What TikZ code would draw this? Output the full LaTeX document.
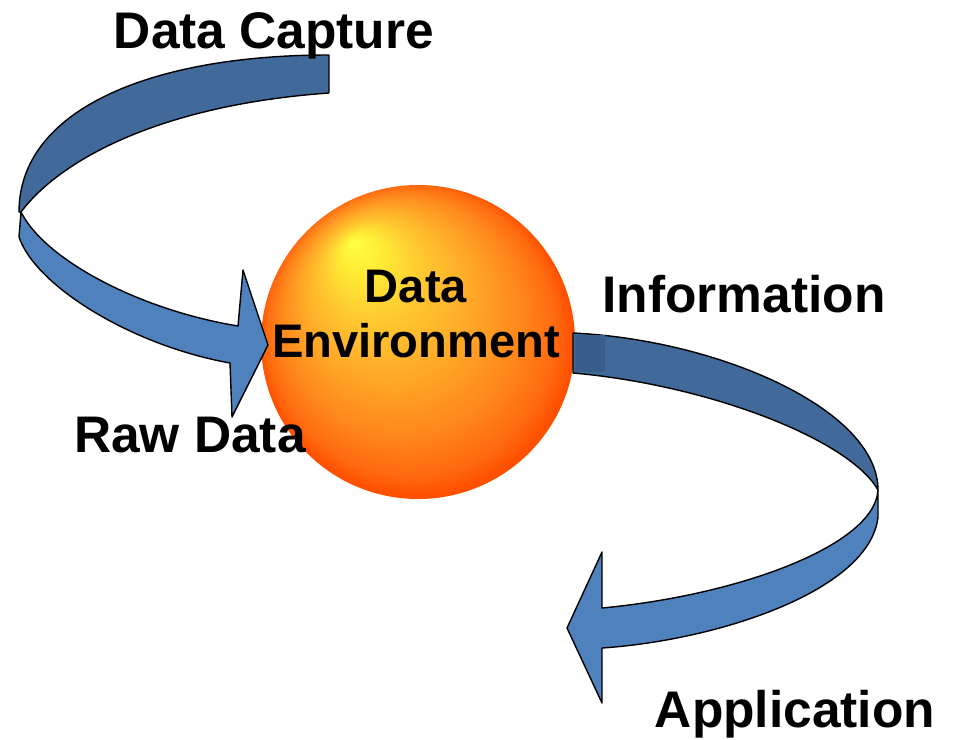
\documentclass[tikz,border=0pt]{standalone}
\usepackage{fontspec}
\setmainfont{Liberation Sans}
\usetikzlibrary{positioning,shapes,arrows}

\definecolor{ribbonfront}{HTML}{4F81BD}
\definecolor{ribbonback}{HTML}{41699A}
\definecolor{ribbonstub}{HTML}{3A5E8C}
\definecolor{glowA}{HTML}{FFFF40}
\definecolor{glowB}{HTML}{FFEE36}
\definecolor{glowC}{HTML}{FFC830}
\definecolor{glowD}{HTML}{FFA626}
\definecolor{glowE}{HTML}{FF881C}
\definecolor{glowF}{HTML}{FF6A10}
\definecolor{glowG}{HTML}{FF5000}
\pgfdeclareradialshading{sphere glow}{\pgfpoint{-10.4bp}{16.2bp}}{color(0bp)=(glowA); color(3bp)=(glowB); color(8bp)=(glowC); color(14bp)=(glowD); color(19bp)=(glowE); color(23bp)=(glowF); color(25bp)=(glowG); color(26bp)=(glowG)}

\begin{document}
\begin{tikzpicture}[x=0.25mm,y=-0.25mm]
	\tikzset{label style/.style={font=\fontsize{36.6}{44}\selectfont\bfseries, inner sep=0pt, anchor=base},
	         env style/.style={font=\fontsize{33.5}{39}\selectfont\bfseries, inner sep=0pt, align=center},
	         ribbon/.style={draw=black, line width=0.35mm, line join=round}}
	\useasboundingbox (0,0) rectangle (957,739);
	\node[circle, minimum size=78.5mm, inner sep=0pt, shading=sphere glow] (env) at (418,342) {};
	% capture ribbon, back then front
	\filldraw[ribbon, fill=ribbonback] (329,55) .. controls (150,55) and (19,110) .. (19,212)
	   -- (21,212) .. controls (60,160) and (160,105) .. (329,93) -- cycle;
	\filldraw[ribbon, fill=ribbonfront] (21,212) .. controls (45,260) and (140,310) .. (238,326)
	   -- (243,270) -- (268,345) -- (232,417) -- (230,363) .. controls (130,345) and (35,285) .. (19,237) -- cycle;
	% application ribbon
	\filldraw[ribbon, fill=ribbonback] (573,333) .. controls (720,340) and (878,410) .. (878,490)
	   .. controls (850,440) and (710,385) .. (573,373) -- cycle;
	\fill[ribbonstub] (575,335) rectangle (605,372);
	\filldraw[ribbon, fill=ribbonfront] (878,490) -- (878,517) .. controls (870,590) and (720,640) .. (602,648)
	   -- (602,703) -- (567,628) -- (602,552) -- (602,608) .. controls (740,595) and (875,545) .. (878,490) -- cycle;
	\node[env style] (envtext) at (416,314) {Data\\Environment};
	\node[label style] (capture) at (274,48) {Data Capture};
	\node[label style] (info) at (744,312) {Information};
	\node[label style] (raw) at (190,452) {Raw Data};
	\node[label style] (app) at (795,727) {Application};
\end{tikzpicture}
\end{document}
